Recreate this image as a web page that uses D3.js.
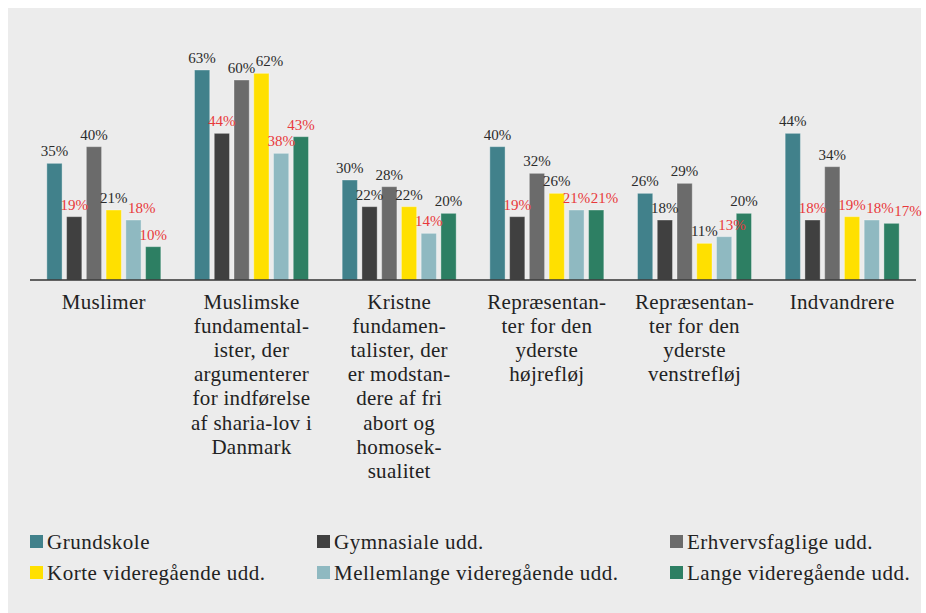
<!DOCTYPE html>
<html>
<head>
<meta charset="utf-8">
<script src="https://cdn.jsdelivr.net/npm/d3@7"></script>
<style>
  body { margin: 0; background: #fff; }
  svg text { font-family: "Liberation Serif", "Tinos", "Times New Roman", "DejaVu Serif", serif; }
</style>
</head>
<body>
<div class="chart"></div>
<script>
// groups (x categories), each label split in lines as printed
const groups = [
  ["Muslimer"],
  ["Muslimske", "fundamental-", "ister, der", "argumenterer", "for indførelse", "af sharia-lov i", "Danmark"],
  ["Kristne", "fundamen-", "talister, der", "er modstan-", "dere af fri", "abort og", "homosek-", "sualitet"],
  ["Repræsentan-", "ter for den", "yderste", "højrefløj"],
  ["Repræsentan-", "ter for den", "yderste", "venstrefløj"],
  ["Indvandrere"]
];

const series = [
  "Grundskole",
  "Gymnasiale udd.",
  "Erhvervsfaglige udd.",
  "Korte videregående udd.",
  "Mellemlange videregående udd.",
  "Lange videregående udd."
];

// percent per group, one value per series
const grundskole   = [35, 63, 30, 40, 26, 44];
const gymnasiale   = [19, 44, 22, 19, 18, 18];
const erhverv      = [40, 60, 28, 32, 29, 34];
const korte        = [21, 62, 22, 26, 11, 19];
const mellemlange  = [18, 38, 14, 21, 13, 18];
const lange        = [10, 43, 20, 21, 20, 17];

// labels printed in red in the source, per group then per series
const redLabel = [
  [false, true, false, false, true, true],
  [false, true, false, false, true, true],
  [false, false, false, false, true, false],
  [false, true, false, false, true, true],
  [false, false, false, false, true, false],
  [false, true, false, true, true, true]
];

const seriesValues = [grundskole, gymnasiale, erhverv, korte, mellemlange, lange];
const colors = ["#41818b", "#404040", "#6b6b6b", "#ffe000", "#8fb9c1", "#2d7f63"];
const serif = '"Liberation Serif", "Tinos", "Times New Roman", "DejaVu Serif", serif';

const W = 926, H = 613;
const svg = d3.select(".chart").append("svg").attr("width", W).attr("height", H);

// grey panel
svg.append("rect").attr("x", 8).attr("y", 8).attr("width", 913).attr("height", H - 8).attr("fill", "#ececec");

const baseY = 280;
const x0 = d3.scaleBand().domain(d3.range(groups.length)).range([30, 916]).paddingInner(0.228).paddingOuter(0.114);
const x1 = d3.scaleBand().domain(d3.range(series.length)).range([0, x0.bandwidth()]).paddingInner(0.228);
const y = d3.scaleLinear().domain([0, 63]).range([baseY, 70]);

const rows = [];
groups.forEach((g, gi) => {
  series.forEach((s, si) => {
    rows.push({ g: gi, s: si, v: seriesValues[si][gi], red: redLabel[gi][si] });
  });
});

// bars
svg.append("g")
  .selectAll("rect")
  .data(rows)
  .enter()
  .append("rect")
  .attr("x", d => x0(d.g) + x1(d.s))
  .attr("y", d => y(d.v))
  .attr("width", x1.bandwidth())
  .attr("height", d => baseY - y(d.v))
  .attr("fill", d => colors[d.s])
  .attr("stroke", "rgba(255,255,255,0.35)")
  .attr("stroke-width", 1);

// value labels
const labels = svg.append("g")
  .selectAll("text")
  .data(rows)
  .enter()
  .append("text")
  .attr("x", d => x0(d.g) + x1(d.s) + x1.bandwidth() / 2)
  .attr("y", d => y(d.v) - 7)
  .attr("text-anchor", "middle")
  .attr("font-family", serif)
  .style("font-size", "15px")
  .style("fill", d => d.red ? "#e8383b" : "#2b2b2b")
  .text(d => d.v + "%");

// push a label right when it sits on top of its left neighbour
let prev = null;
labels.each(function (d) {
  const w = this.getComputedTextLength();
  let cx = +d3.select(this).attr("x");
  const ly = +d3.select(this).attr("y");
  if (prev && prev.g === d.g && Math.abs(prev.y - ly) < 11 && cx - w / 2 < prev.right) {
    cx = prev.right + 0.5 + w / 2;
    d3.select(this).attr("x", cx);
  }
  prev = { g: d.g, y: ly, right: cx + w / 2 };
});

// baseline
svg.append("line")
  .attr("x1", 30).attr("x2", 916)
  .attr("y1", baseY).attr("y2", baseY)
  .attr("stroke", "#333").attr("stroke-width", 1.5);

// category labels
const cat = svg.append("g")
  .selectAll("text")
  .data(groups)
  .enter()
  .append("text")
  .attr("text-anchor", "middle")
  .attr("font-family", serif)
  .style("font-size", "21px")
  .style("letter-spacing", "0.3px")
  .style("fill", "#222");
cat.selectAll("tspan")
  .data((d, i) => d.map(line => ({ line, i })))
  .enter()
  .append("tspan")
  .attr("x", d => x0(d.i) + x0.bandwidth() / 2)
  .attr("y", (d, j) => 309 + j * 24.1)
  .text(d => d.line);

// legend
const legendX = [30, 317, 670];
const legendY = [549, 580];
const leg = svg.append("g")
  .selectAll("g")
  .data(series)
  .enter()
  .append("g")
  .attr("transform", (d, i) => "translate(" + legendX[i % 3] + "," + legendY[Math.floor(i / 3)] + ")");
leg.append("rect")
  .attr("x", 0).attr("y", -14)
  .attr("width", 13).attr("height", 13)
  .attr("fill", (d, i) => colors[i]);
leg.append("text")
  .attr("x", 17).attr("y", 0)
  .attr("font-family", serif)
  .style("font-size", "21px")
  .style("letter-spacing", "0.5px")
  .style("fill", "#222")
  .text(d => d);
</script>
</body>
</html>
